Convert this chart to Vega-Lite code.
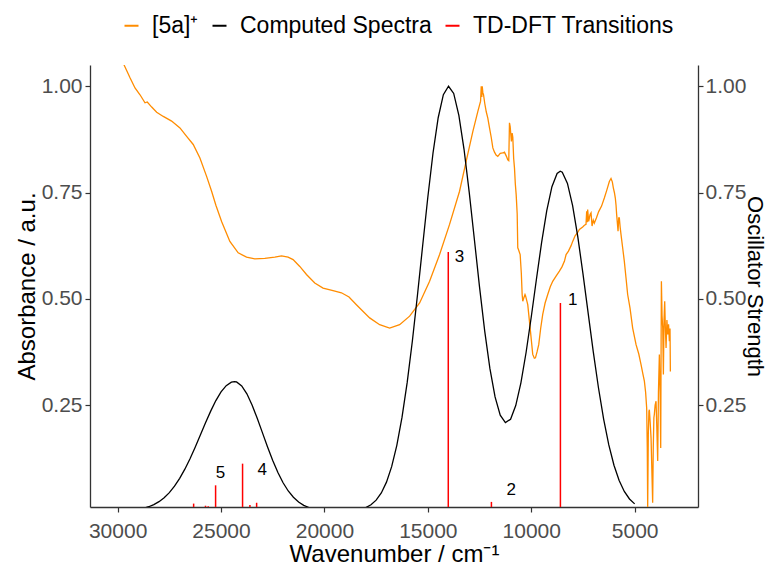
{
  "$schema": "https://vega.github.io/schema/vega-lite/v6.json",
  "width": 608,
  "height": 442,
  "autosize": {"type": "none"},
  "padding": {"left": 90, "top": 65, "right": 72, "bottom": 58},
  "background": "white",
  "config": {
    "view": {"stroke": null},
    "font": "Liberation Sans",
    "axis": {
      "grid": false,
      "domainColor": "#333333",
      "domainWidth": 1.3,
      "tickColor": "#333333",
      "tickSize": 5,
      "tickWidth": 1.2,
      "labelColor": "#4D4D4D",
      "labelFontSize": 21,
      "labelFont": "Liberation Sans",
      "titleFont": "Liberation Sans",
      "titleFontSize": 24,
      "titleFontWeight": "normal",
      "titleColor": "black"
    }
  },
  "datasets": {
    "orange": [
      {"w": 30000, "v": 1.08}, {"w": 29676, "v": 1.049}, {"w": 29401, "v": 1.02}, {"w": 29160, "v": 0.996},
      {"w": 28918, "v": 0.98}, {"w": 28677, "v": 0.961}, {"w": 28566, "v": 0.963}, {"w": 28353, "v": 0.951},
      {"w": 28112, "v": 0.939}, {"w": 27793, "v": 0.929}, {"w": 27389, "v": 0.918}, {"w": 26987, "v": 0.902},
      {"w": 26663, "v": 0.882}, {"w": 26345, "v": 0.863}, {"w": 26021, "v": 0.831}, {"w": 25698, "v": 0.788},
      {"w": 25456, "v": 0.753}, {"w": 25249, "v": 0.72}, {"w": 24973, "v": 0.682}, {"w": 24573, "v": 0.635},
      {"w": 24171, "v": 0.608}, {"w": 23766, "v": 0.598}, {"w": 23366, "v": 0.594}, {"w": 22883, "v": 0.595},
      {"w": 22400, "v": 0.598}, {"w": 22076, "v": 0.601}, {"w": 21757, "v": 0.598}, {"w": 21516, "v": 0.592},
      {"w": 21193, "v": 0.576}, {"w": 20869, "v": 0.557}, {"w": 20468, "v": 0.537}, {"w": 20067, "v": 0.525},
      {"w": 19584, "v": 0.519}, {"w": 19179, "v": 0.514}, {"w": 18812, "v": 0.504}, {"w": 18455, "v": 0.486},
      {"w": 17813, "v": 0.455}, {"w": 17330, "v": 0.439}, {"w": 16847, "v": 0.431}, {"w": 16364, "v": 0.439},
      {"w": 15881, "v": 0.459}, {"w": 15398, "v": 0.49}, {"w": 14915, "v": 0.541}, {"w": 14432, "v": 0.604},
      {"w": 13950, "v": 0.675}, {"w": 13467, "v": 0.753}, {"w": 13145, "v": 0.824}, {"w": 12823, "v": 0.894},
      {"w": 12582, "v": 0.941}, {"w": 12450, "v": 0.965}, {"w": 12418, "v": 1.0}, {"w": 12390, "v": 0.975},
      {"w": 12370, "v": 1.0}, {"w": 12340, "v": 0.985}, {"w": 12308, "v": 0.98}, {"w": 12250, "v": 0.96},
      {"w": 12176, "v": 0.94}, {"w": 12100, "v": 0.925}, {"w": 12018, "v": 0.902}, {"w": 11936, "v": 0.88},
      {"w": 11857, "v": 0.855}, {"w": 11777, "v": 0.845}, {"w": 11700, "v": 0.838}, {"w": 11618, "v": 0.835},
      {"w": 11500, "v": 0.842}, {"w": 11376, "v": 0.843}, {"w": 11295, "v": 0.845}, {"w": 11200, "v": 0.835},
      {"w": 11135, "v": 0.827}, {"w": 11087, "v": 0.825}, {"w": 11053, "v": 0.914}, {"w": 11019, "v": 0.905},
      {"w": 10960, "v": 0.87}, {"w": 10923, "v": 0.89}, {"w": 10892, "v": 0.88}, {"w": 10850, "v": 0.83},
      {"w": 10811, "v": 0.808}, {"w": 10770, "v": 0.77}, {"w": 10729, "v": 0.745}, {"w": 10680, "v": 0.7},
      {"w": 10652, "v": 0.62}, {"w": 10618, "v": 0.616}, {"w": 10536, "v": 0.604}, {"w": 10480, "v": 0.56},
      {"w": 10440, "v": 0.51}, {"w": 10410, "v": 0.494}, {"w": 10373, "v": 0.5}, {"w": 10300, "v": 0.51},
      {"w": 10280, "v": 0.508}, {"w": 10169, "v": 0.486}, {"w": 10053, "v": 0.431}, {"w": 9928, "v": 0.369},
      {"w": 9850, "v": 0.36}, {"w": 9797, "v": 0.361}, {"w": 9720, "v": 0.375}, {"w": 9638, "v": 0.392},
      {"w": 9545, "v": 0.43}, {"w": 9445, "v": 0.463}, {"w": 9330, "v": 0.49}, {"w": 9203, "v": 0.51},
      {"w": 9080, "v": 0.528}, {"w": 8962, "v": 0.541}, {"w": 8800, "v": 0.553}, {"w": 8638, "v": 0.565},
      {"w": 8515, "v": 0.575}, {"w": 8397, "v": 0.588}, {"w": 8315, "v": 0.604}, {"w": 8200, "v": 0.612},
      {"w": 8074, "v": 0.625}, {"w": 7996, "v": 0.635}, {"w": 7880, "v": 0.648}, {"w": 7755, "v": 0.656},
      {"w": 7672, "v": 0.663}, {"w": 7513, "v": 0.669}, {"w": 7430, "v": 0.673}, {"w": 7352, "v": 0.675},
      {"w": 7320, "v": 0.706}, {"w": 7290, "v": 0.68}, {"w": 7272, "v": 0.71}, {"w": 7224, "v": 0.682},
      {"w": 7190, "v": 0.69}, {"w": 7156, "v": 0.698}, {"w": 7109, "v": 0.702}, {"w": 7060, "v": 0.671},
      {"w": 7000, "v": 0.685}, {"w": 6950, "v": 0.678}, {"w": 6850, "v": 0.69}, {"w": 6740, "v": 0.705},
      {"w": 6600, "v": 0.718}, {"w": 6466, "v": 0.737}, {"w": 6350, "v": 0.755}, {"w": 6224, "v": 0.776},
      {"w": 6143, "v": 0.783}, {"w": 6080, "v": 0.775}, {"w": 6031, "v": 0.761}, {"w": 5980, "v": 0.75},
      {"w": 5935, "v": 0.737}, {"w": 5900, "v": 0.72}, {"w": 5870, "v": 0.698}, {"w": 5803, "v": 0.659},
      {"w": 5770, "v": 0.69}, {"w": 5741, "v": 0.69}, {"w": 5700, "v": 0.668}, {"w": 5659, "v": 0.651},
      {"w": 5580, "v": 0.62}, {"w": 5499, "v": 0.588}, {"w": 5420, "v": 0.55}, {"w": 5338, "v": 0.51},
      {"w": 5224, "v": 0.478}, {"w": 5096, "v": 0.431}, {"w": 4932, "v": 0.392}, {"w": 4800, "v": 0.37},
      {"w": 4691, "v": 0.345}, {"w": 4610, "v": 0.325}, {"w": 4530, "v": 0.306}, {"w": 4470, "v": 0.28},
      {"w": 4419, "v": 0.243}, {"w": 4390, "v": 0.15}, {"w": 4370, "v": 0.008}, {"w": 4340, "v": 0.18},
      {"w": 4310, "v": 0.235}, {"w": 4289, "v": 0.239}, {"w": 4250, "v": 0.21}, {"w": 4207, "v": 0.172},
      {"w": 4170, "v": 0.1}, {"w": 4129, "v": 0.02}, {"w": 4100, "v": 0.15}, {"w": 4070, "v": 0.22},
      {"w": 4048, "v": 0.228}, {"w": 4010, "v": 0.25}, {"w": 3966, "v": 0.259}, {"w": 3930, "v": 0.2},
      {"w": 3886, "v": 0.118}, {"w": 3850, "v": 0.28}, {"w": 3805, "v": 0.369}, {"w": 3770, "v": 0.28},
      {"w": 3740, "v": 0.149}, {"w": 3720, "v": 0.4}, {"w": 3707, "v": 0.541}, {"w": 3675, "v": 0.46},
      {"w": 3643, "v": 0.431}, {"w": 3611, "v": 0.322}, {"w": 3580, "v": 0.45}, {"w": 3547, "v": 0.494},
      {"w": 3515, "v": 0.43}, {"w": 3481, "v": 0.384}, {"w": 3440, "v": 0.45}, {"w": 3402, "v": 0.416},
      {"w": 3360, "v": 0.44}, {"w": 3321, "v": 0.4}, {"w": 3290, "v": 0.43}, {"w": 3273, "v": 0.329}
    ],
    "computed": [
      {"w": 30000, "v": 0.0006}, {"w": 29750, "v": 0.001}, {"w": 29500, "v": 0.0017}, {"w": 29250, "v": 0.0028},
      {"w": 29000, "v": 0.0045}, {"w": 28750, "v": 0.007}, {"w": 28500, "v": 0.0106}, {"w": 28250, "v": 0.0156},
      {"w": 28000, "v": 0.0226}, {"w": 27750, "v": 0.0319}, {"w": 27500, "v": 0.0439}, {"w": 27250, "v": 0.059},
      {"w": 27000, "v": 0.0774}, {"w": 26750, "v": 0.099}, {"w": 26500, "v": 0.1236}, {"w": 26250, "v": 0.1507},
      {"w": 26000, "v": 0.1792}, {"w": 25750, "v": 0.208}, {"w": 25500, "v": 0.2356}, {"w": 25250, "v": 0.2604},
      {"w": 25000, "v": 0.2808}, {"w": 24750, "v": 0.2956}, {"w": 24500, "v": 0.3037}, {"w": 24350, "v": 0.305},
      {"w": 24250, "v": 0.3042}, {"w": 24000, "v": 0.2949}, {"w": 23750, "v": 0.2763}, {"w": 23500, "v": 0.2502},
      {"w": 23250, "v": 0.2188}, {"w": 23000, "v": 0.185}, {"w": 22750, "v": 0.1511}, {"w": 22500, "v": 0.1193},
      {"w": 22250, "v": 0.091}, {"w": 22000, "v": 0.067}, {"w": 21750, "v": 0.0477}, {"w": 21500, "v": 0.0329},
      {"w": 21250, "v": 0.0218}, {"w": 21000, "v": 0.014}, {"w": 20750, "v": 0.0087}, {"w": 20500, "v": 0.0052},
      {"w": 20250, "v": 0.003}, {"w": 20000, "v": 0.0017}, {"w": 19500, "v": 0.0005}, {"w": 19000, "v": 0.0007},
      {"w": 18500, "v": 0.0024}, {"w": 18000, "v": 0.0086}, {"w": 17750, "v": 0.0153}, {"w": 17500, "v": 0.0261},
      {"w": 17250, "v": 0.0431}, {"w": 17000, "v": 0.0685}, {"w": 16750, "v": 0.105}, {"w": 16500, "v": 0.1551},
      {"w": 16250, "v": 0.2207}, {"w": 16000, "v": 0.3026}, {"w": 15750, "v": 0.3999}, {"w": 15500, "v": 0.5094},
      {"w": 15250, "v": 0.6252}, {"w": 15000, "v": 0.7395}, {"w": 14750, "v": 0.8429}, {"w": 14500, "v": 0.9259},
      {"w": 14250, "v": 0.9802}, {"w": 14000, "v": 1.0}, {"w": 13750, "v": 0.9831}, {"w": 13500, "v": 0.9314},
      {"w": 13250, "v": 0.8517}, {"w": 13000, "v": 0.7509}, {"w": 12750, "v": 0.6394}, {"w": 12500, "v": 0.5274},
      {"w": 12250, "v": 0.4238}, {"w": 12000, "v": 0.3361}, {"w": 11750, "v": 0.2691}, {"w": 11500, "v": 0.2261},
      {"w": 11250, "v": 0.2087}, {"w": 11000, "v": 0.2165}, {"w": 10750, "v": 0.2486}, {"w": 10500, "v": 0.3022},
      {"w": 10250, "v": 0.3735}, {"w": 10000, "v": 0.457}, {"w": 9750, "v": 0.5459}, {"w": 9500, "v": 0.6321},
      {"w": 9250, "v": 0.7073}, {"w": 9000, "v": 0.7636}, {"w": 8750, "v": 0.7947}, {"w": 8600, "v": 0.8},
      {"w": 8500, "v": 0.7976}, {"w": 8250, "v": 0.7715}, {"w": 8000, "v": 0.7192}, {"w": 7750, "v": 0.646},
      {"w": 7500, "v": 0.5593}, {"w": 7250, "v": 0.4666}, {"w": 7000, "v": 0.3751}, {"w": 6750, "v": 0.2906},
      {"w": 6500, "v": 0.217}, {"w": 6250, "v": 0.1561}, {"w": 6000, "v": 0.1083}, {"w": 5750, "v": 0.0723},
      {"w": 5500, "v": 0.0466}, {"w": 5250, "v": 0.0289}, {"w": 5000, "v": 0.0173}
    ],
    "sticks": [
      {"w": 8590, "f": 0.49}, {"w": 11926, "f": 0.022}, {"w": 14012, "f": 0.61},
      {"w": 23959, "f": 0.112}, {"w": 25263, "f": 0.061}, {"w": 26325, "f": 0.018},
      {"w": 25751, "f": 0.013}, {"w": 25620, "f": 0.012}, {"w": 23603, "f": 0.015}, {"w": 23279, "f": 0.02}
    ],
    "labels": [
      {"w": 7996, "v": 0.496, "t": "1"}, {"w": 10970, "v": 0.049, "t": "2"}, {"w": 13467, "v": 0.598, "t": "3"},
      {"w": 23013, "v": 0.097, "t": "4"}, {"w": 25022, "v": 0.089, "t": "5"}
    ]
  },
  "layer": [
    {
      "data": {"name": "orange"},
      "mark": {"type": "line", "clip": true, "strokeWidth": 1.3},
      "encoding": {
        "x": {"field": "w", "type": "quantitative", "scale": {"domain": [1937, 31336], "reverse": true, "nice": false, "zero": false}, "axis": {"values": [5000, 10000, 15000, 20000, 25000, 30000], "format": "d", "title": "Wavenumber / cm⁻¹", "labelPadding": 8, "titlePadding": 1}},
        "y": {"field": "v", "type": "quantitative", "scale": {"domain": [0.01, 1.05], "nice": false, "zero": false}, "axis": {"values": [0.25, 0.5, 0.75, 1.0], "format": ".2f", "title": "Absorbance / a.u.", "labelPadding": 3, "titlePadding": 2}},
        "color": {"datum": "[5a]⁺", "scale": {"domain": ["[5a]⁺", "Computed Spectra", "TD-DFT Transitions"], "range": ["#FF8C00", "#000000", "#FF0000"]},
          "legend": {"orient": "none", "legendX": 30, "legendY": -51, "direction": "horizontal", "title": null, "symbolType": "stroke", "symbolSize": 196, "symbolStrokeWidth": 2, "labelFontSize": 23, "labelLimit": 600, "labelColor": "black", "labelFont": "Liberation Sans", "columnPadding": 9, "labelOffset": 9}}
      }
    },
    {
      "data": {"name": "computed"},
      "mark": {"type": "line", "clip": true, "strokeWidth": 1.3},
      "encoding": {
        "x": {"field": "w", "type": "quantitative", "scale": {"domain": [1937, 31336], "reverse": true, "nice": false, "zero": false}, "axis": {"values": [5000, 10000, 15000, 20000, 25000, 30000], "format": "d", "title": "Wavenumber / cm⁻¹", "labelPadding": 8, "titlePadding": 1}},
        "y": {"field": "v", "type": "quantitative", "scale": {"domain": [0.01, 1.05], "nice": false, "zero": false}, "axis": {"orient": "right", "values": [0.25, 0.5, 0.75, 1.0], "format": ".2f", "title": "Oscillator Strength", "titleFontSize": 22, "labelPadding": 2, "titlePadding": -3}},
        "color": {"datum": "Computed Spectra"}
      }
    },
    {
      "data": {"name": "sticks"},
      "mark": {"type": "rule", "clip": true, "strokeWidth": 1.5},
      "encoding": {
        "x": {"field": "w", "type": "quantitative", "scale": {"domain": [1937, 31336], "reverse": true, "nice": false, "zero": false}, "axis": {"values": [5000, 10000, 15000, 20000, 25000, 30000], "format": "d", "title": "Wavenumber / cm⁻¹", "labelPadding": 8, "titlePadding": 1}},
        "y": {"field": "f", "type": "quantitative", "scale": {"domain": [0.01, 1.05], "nice": false, "zero": false}, "axis": null},
        "y2": {"datum": 0},
        "color": {"datum": "TD-DFT Transitions"}
      }
    },
    {
      "data": {"name": "labels"},
      "mark": {"type": "text", "fontSize": 17, "font": "Liberation Sans", "color": "black"},
      "encoding": {
        "x": {"field": "w", "type": "quantitative", "scale": {"domain": [1937, 31336], "reverse": true, "nice": false, "zero": false}, "axis": {"values": [5000, 10000, 15000, 20000, 25000, 30000], "format": "d", "title": "Wavenumber / cm⁻¹", "labelPadding": 8, "titlePadding": 1}},
        "y": {"field": "v", "type": "quantitative", "scale": {"domain": [0.01, 1.05], "nice": false, "zero": false}, "axis": null},
        "text": {"field": "t"}
      }
    }
  ],
  "resolve": {"scale": {"y": "independent"}}
}
